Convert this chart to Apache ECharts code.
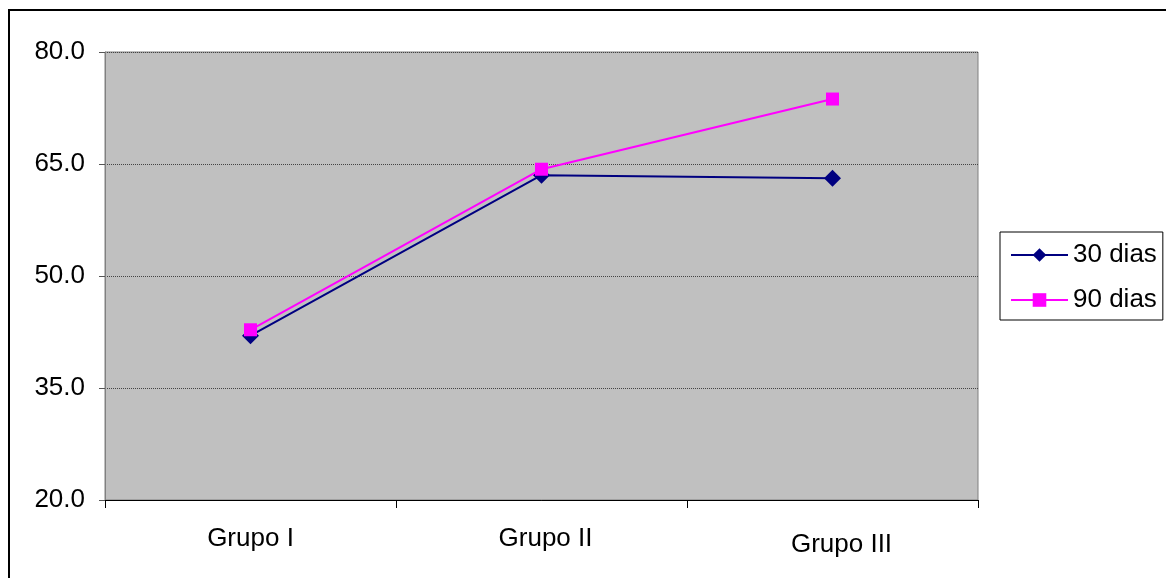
<!DOCTYPE html>
<html>
<head>
<meta charset="utf-8">
<script src="https://cdn.jsdelivr.net/npm/echarts@6/dist/echarts.min.js"></script>
<style>html,body{margin:0;padding:0;background:#fff;}#c{width:1166px;height:578px;}</style>
</head>
<body>
<div id="c"></div>
<script>
const categories = ['Grupo I', 'Grupo II', 'Grupo III'];
const dias30 = [42.0, 63.5, 63.1];
const dias90 = [42.8, 64.3, 73.7];
const seriesNames = ['30 dias', '90 dias'];
const yTicks = { min: 20, max: 80, interval: 15 };

const chart = echarts.init(document.getElementById('c'), null, { renderer: 'canvas' });
const font = '"Liberation Sans", Arial, sans-serif';

const catData = categories.map((c, i) => {
  if (i === 2) return { value: c, textStyle: { padding: [6, 0, 0, 18] } };
  if (i === 1) return { value: c, textStyle: { padding: [0, 0, 0, 8] } };
  return c;
});

chart.setOption({
  animation: false,
  backgroundColor: '#ffffff',
  textStyle: { fontFamily: font },
  graphic: [{
    type: 'rect',
    shape: { x: 9, y: 10, width: 1300, height: 700 },
    style: { fill: 'none', stroke: '#000', lineWidth: 2 },
    silent: true
  }],
  grid: {
    left: 105, right: 188, top: 52, bottom: 78,
    show: true, backgroundColor: '#C0C0C0', borderColor: '#808080', borderWidth: 1
  },
  legend: {
    orient: 'vertical',
    left: 1000, top: 232,
    padding: [10, 6, 7, 10],
    itemGap: 19,
    itemWidth: 57, itemHeight: 17,
    backgroundColor: '#fff',
    borderColor: '#000', borderWidth: 1, borderRadius: 0,
    textStyle: { fontSize: 26, color: '#000', fontFamily: font },
    data: seriesNames
  },
  xAxis: {
    type: 'category',
    data: catData,
    boundaryGap: true,
    axisLine: { show: true, lineStyle: { color: '#000', width: 1 } },
    axisTick: { show: true, length: 8, lineStyle: { color: '#000' } },
    axisLabel: { fontSize: 26, color: '#000', margin: 26, fontFamily: font },
    splitLine: { show: false }
  },
  yAxis: {
    type: 'value',
    min: yTicks.min, max: yTicks.max, interval: yTicks.interval,
    axisLine: { show: true, lineStyle: { color: '#808080' } },
    axisTick: { show: true, length: 6, lineStyle: { color: '#555' } },
    axisLabel: { fontSize: 26, color: '#000', margin: 20, fontFamily: font,
      formatter: v => v.toFixed(1) },
    splitLine: { show: true, lineStyle: { color: '#444', type: [1, 1], width: 1 } }
  },
  series: [
    {
      name: seriesNames[0], type: 'line', data: dias30,
      symbol: 'diamond', symbolSize: 17,
      lineStyle: { color: '#000080', width: 2 },
      itemStyle: { color: '#000080' },
      z: 2
    },
    {
      name: seriesNames[1], type: 'line', data: dias90,
      symbol: 'rect', symbolSize: 13,
      lineStyle: { color: '#FF00FF', width: 2 },
      itemStyle: { color: '#FF00FF' },
      z: 3
    }
  ]
});
</script>
</body>
</html>
